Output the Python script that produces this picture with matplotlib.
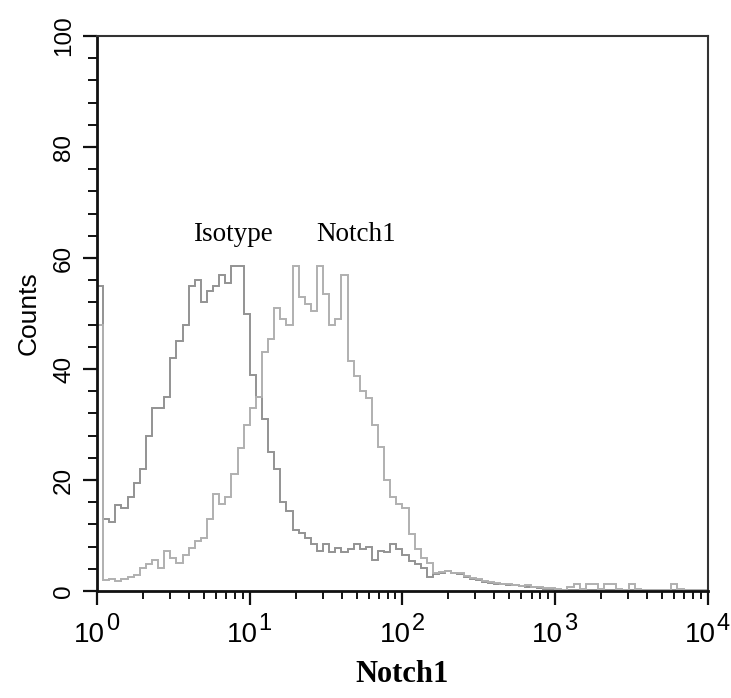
import numpy as np
import matplotlib
matplotlib.use('Agg')
import matplotlib.pyplot as plt
from matplotlib.ticker import FixedLocator, NullFormatter, MultipleLocator
from matplotlib.transforms import offset_copy

# channel histogram, 25 channels per decade over 10^0..10^4
decades = [0, 1, 2, 3, 4]
yticks = [0, 20, 40, 60, 80, 100]

isotype = [55, 13, 12.5, 15.5, 15, 17, 19.5, 22, 28, 33,
           33, 35, 42, 45, 48, 55, 56, 52, 54, 55,
           57, 55.5, 58.5, 58.5, 50, 39, 35, 31, 25, 22,
           16, 14.5, 11, 10.5, 9.5, 8.5, 7.2, 8.5, 7, 7.8,
           7, 7.5, 8.5, 7.5, 8, 5.5, 7.2, 7, 8.5, 7.5,
           6.5, 5.4, 4.9, 4.2, 2.6, 3, 3.3, 3.6, 3.2, 3.0,
           2.6, 2.2, 2.0, 1.6, 1.4, 1.3, 1.2, 1.0, 1.1, 0.9,
           0.8, 0.7, 0.6, 0.4, 0.3, 0.2, 0.2, 0.1, 0.2, 0.1,
           0.1, 0.1, 0.1, 0.1, 0.1, 0.1, 0.1, 0.1, 0.1, 0.1,
           0.1, 0.1, 0.1, 0.1, 0.1, 0.1, 0.1, 0.1, 0.1, 0.1]

notch1 = [48, 2.0, 2.2, 1.8, 2.2, 2.5, 2.8, 4.2, 4.8, 5.5,
          4.2, 7.2, 6, 5, 6.5, 7.8, 9, 9.5, 13, 17.5,
          15.7, 17, 21, 25.8, 30, 33, 35, 43, 45.4, 51,
          49, 48, 58.5, 53, 51.7, 50.5, 58.5, 53.5, 48, 49,
          57, 41.4, 38.7, 36, 34.8, 30, 26, 20, 17, 15.7,
          15, 10.3, 7.5, 6, 5, 3.2, 3.4, 3.6, 3.3, 3.2,
          2.7, 2.4, 2.1, 1.8, 1.6, 1.5, 1.3, 1.2, 1.0, 0.9,
          1.0, 0.8, 0.7, 0.5, 0.6, 0.3, 0.2, 0.8, 1.3, 0.4,
          1.2, 1.3, 0.3, 1.2, 1.3, 0.3, 0.2, 1.2, 0.3, 0.1,
          0.1, 0.1, 0.1, 0.2, 1.2, 0.3, 0.1, 0.1, 0.1, 0.1]

edges = np.logspace(0, 4, len(isotype) + 1)

fig = plt.figure(figsize=(7.31, 6.98), dpi=100)
ax = fig.add_axes([0.1327, 0.1533, 0.8358, 0.7951])

ax.stairs(isotype, edges, color='#939393', linewidth=1.4)
ax.stairs(notch1, edges, color='#b0b0b0', linewidth=1.4)

ax.set_xscale('log')
ax.set_xlim(1, 1e4)
ax.set_ylim(0, 100)

# spines
for s in ['left', 'bottom']:
    ax.spines[s].set_linewidth(2.0)
    ax.spines[s].set_color('#111111')
for s in ['top', 'right']:
    ax.spines[s].set_linewidth(1.5)
    ax.spines[s].set_color('#333333')

# ticks
ax.xaxis.set_major_locator(FixedLocator([10.0 ** d for d in decades]))
ax.xaxis.set_minor_locator(FixedLocator([m * 10.0 ** d for d in decades[:-1] for m in range(2, 10)]))
ax.xaxis.set_major_formatter(NullFormatter())
ax.xaxis.set_minor_formatter(NullFormatter())
ax.yaxis.set_major_locator(FixedLocator(yticks))
ax.yaxis.set_major_formatter(NullFormatter())
ax.yaxis.set_minor_locator(MultipleLocator(4))
ax.tick_params(axis='both', which='major', direction='out', length=10, width=1.6, color='#111111')
ax.tick_params(axis='x', which='minor', direction='out', length=5.5, width=1.4, color='#111111')
ax.tick_params(axis='y', which='minor', direction='out', length=6.5, width=1.4, color='#111111')

# y labels, rotated like the original
ylab_tr = offset_copy(ax.get_yaxis_transform(), fig=fig, x=-22, y=0, units='dots')
for v in yticks:
    ax.text(0, v, str(v), transform=ylab_tr, rotation=90, ha='right', va='center',
            fontsize=17.5, family='Liberation Sans', clip_on=False)

# decade labels as 10 + exponent
for d in decades:
    base = offset_copy(ax.get_xaxis_transform(), fig=fig, x=8, y=-51, units='dots')
    ax.text(10.0 ** d, 0, '10', transform=base, ha='right', va='baseline',
            fontsize=20, family='Liberation Sans', clip_on=False)
    sup = offset_copy(ax.get_xaxis_transform(), fig=fig, x=9, y=-39, units='dots')
    ax.text(10.0 ** d, 0, str(d), transform=sup, ha='left', va='baseline',
            fontsize=17, family='Liberation Sans', clip_on=False)

ax.set_ylabel('Counts', fontsize=19, family='Liberation Sans')
ax.yaxis.set_label_coords(-0.093, 0.5)
ax.set_xlabel('Notch1', fontsize=22, family='Liberation Serif', fontweight='bold')
ax.xaxis.set_label_coords(0.5, -0.125)

ax.text(7.8, 63, 'Isotype', fontsize=19.5, family='Liberation Serif', ha='center', va='baseline')
ax.text(49.4, 63, 'Notch1', fontsize=19.5, family='Liberation Serif', ha='center', va='baseline')

fig.savefig('out.png', dpi=100)
